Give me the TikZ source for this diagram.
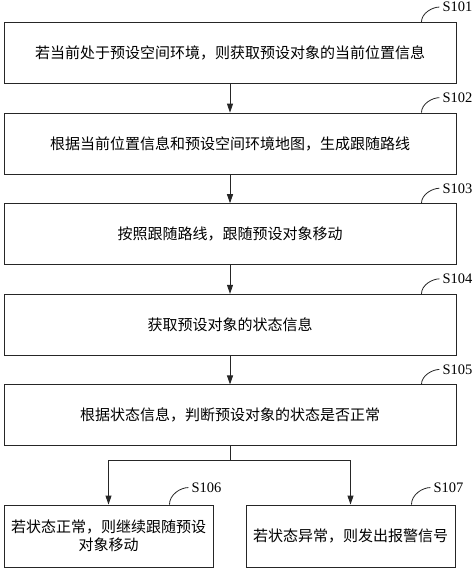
\documentclass[tikz,border=0pt]{standalone}
\usepackage{fontspec}
\setmainfont{Liberation Serif}
\newfontfamily\cjk{Noto Sans CJK SC}
\usetikzlibrary{arrows.meta}

\begin{document}
\begin{tikzpicture}[x=1pt, y=-1pt, >={Triangle[length=9pt,width=6pt]},
    box/.style={draw=black!85, line width=0.9pt, minimum height=61pt,
      font=\cjk\fontsize{15}{18}\selectfont, align=center},
    mainbox/.style={box, minimum width=452pt},
    sidebox/.style={box, minimum width=209pt, minimum height=62pt},
    conn/.style={->, draw=black!85, line width=0.9pt},
    steptag/.style={anchor=west, inner sep=3pt, font=\fontsize{14.5}{15}\selectfont},
    tagline/.style={draw=black!85, line width=0.8pt}]

  \useasboundingbox (0,0) rectangle (474,569);

  % Main steps
  \foreach \i/\txt in {1/{若当前处于预设空间环境，则获取预设对象的当前位置信息},
      2/{根据当前位置信息和预设空间环境地图，生成跟随路线},
      3/{按照跟随路线，跟随预设对象移动},
      4/{获取预设对象的状态信息},
      5/{根据状态信息，判断预设对象的状态是否正常}}
  \node[mainbox] (b\i) at (230,{53+90.6*(\i-1)}) {\txt};

  % Branches
  \node[sidebox] (b6) at (108.5,536) {若状态正常，则继续跟随预设\\对象移动};
  \node[sidebox] (b7) at (350.5,536) {若状态异常，则发出报警信号};

  % Connections
  \foreach \i [count=\j from 2] in {1,...,4}
  \draw[conn] (b\i) -- (b\j);

  \coordinate (split) at (230,460);
  \draw[conn] (b5) -- (split) -| (b6);
  \draw[conn] (split) -| (b7);

  % Step labels
  \foreach \i in {1,...,5}{
    \path (b\i.north east) ++(-17,-15) node[steptag] (s\i) {S10\i};
    \draw[tagline] ([xshift=-35pt]b\i.north east) .. controls +(0,-9) and +(-7,0) .. (s\i.west);
  }
  \foreach \i in {6,7}{
    \path (b\i.north east) ++(-25,-17) node[steptag] (s\i) {S10\i};
    \draw[tagline] ([xshift=-44pt]b\i.north east) .. controls +(0,-10) and +(-8,0) .. (s\i.west);
  }

\end{tikzpicture}
\end{document}
